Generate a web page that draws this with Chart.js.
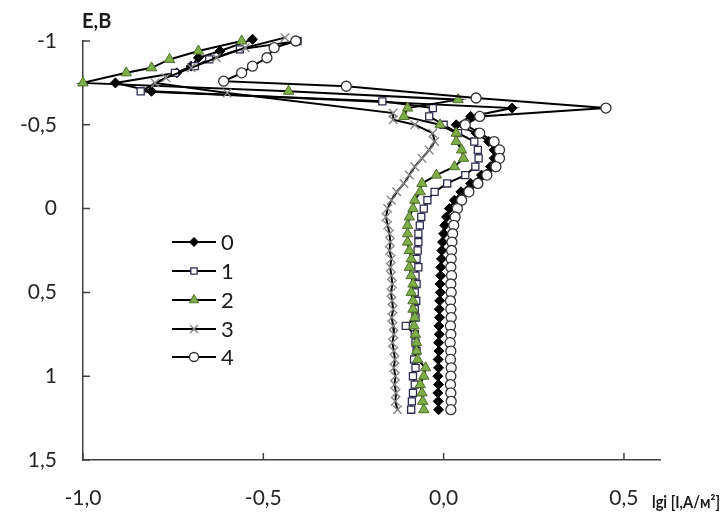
<!DOCTYPE html>
<html>
<head>
<meta charset="utf-8">
<script src="https://cdn.jsdelivr.net/npm/chart.js@4/dist/chart.umd.min.js"></script>
<style>
  html, body { margin: 0; padding: 0; background: #fff; }
  #wrap { width: 721px; height: 516px; position: relative; }
</style>
</head>
<body>
<div id="wrap"><canvas id="chart"></canvas></div>
<script>
// values: E (V) and lgi for each curve
const seriesNames = ["0", "1", "2", "3", "4"];

const s0E = [-1.01, -0.94, -0.90, -0.85, -0.81, -0.75, -0.70,
  -0.60, -0.55, -0.50, -0.45, -0.40, -0.35, -0.30, -0.25, -0.20, -0.15, -0.10, -0.05,
  0.00, 0.05, 0.10, 0.15, 0.20, 0.25, 0.30, 0.35, 0.40, 0.45, 0.50, 0.55, 0.60, 0.65,
  0.70, 0.75, 0.80, 0.85, 0.90, 0.95, 1.00, 1.05, 1.10, 1.15, 1.20];
const s0Lgi = [-0.53, -0.62, -0.68, -0.70, -0.74, -0.91, -0.81,
  0.19, 0.075, 0.035, 0.09, 0.125, 0.14, 0.14, 0.13, 0.105, 0.075, 0.048, 0.03,
  0.016, 0.008, 0.003, 0.0, -0.003, -0.005, -0.006, -0.008, -0.008, -0.01, -0.009, -0.011, -0.012, -0.011,
  -0.013, -0.012, -0.014, -0.013, -0.015, -0.014, -0.016, -0.014, -0.016, -0.015, -0.014];

const s1E = [-1.00, -0.95, -0.89, -0.85, -0.81, -0.70, -0.64,
  -0.60, -0.55, -0.50, -0.45, -0.40, -0.35, -0.30, -0.25, -0.20, -0.15, -0.10, -0.05,
  0.00, 0.05, 0.10, 0.15, 0.20, 0.25, 0.30, 0.35, 0.40, 0.45, 0.50, 0.55, 0.60, 0.65,
  0.70, 0.75, 0.80, 0.85, 0.90, 0.95, 1.00, 1.05, 1.10, 1.15, 1.20];
const s1Lgi = [-0.405, -0.565, -0.65, -0.69, -0.745, -0.84, -0.17,
  -0.03, -0.04, 0.0, 0.04, 0.085, 0.095, 0.097, 0.088, 0.06, 0.01, -0.025, -0.045,
  -0.055, -0.062, -0.066, -0.07, -0.07, -0.072, -0.075, -0.07, -0.078, -0.075, -0.08, -0.076, -0.08, -0.078,
  -0.105, -0.08, -0.078, -0.075, -0.082, -0.078, -0.085, -0.08, -0.085, -0.088, -0.09];

const s2E = [-1.00, -0.94, -0.89, -0.84, -0.81, -0.75, -0.70, -0.65,
  -0.60, -0.55, -0.50, -0.45, -0.40, -0.35, -0.30, -0.25, -0.20, -0.15, -0.10, -0.05,
  0.00, 0.05, 0.10, 0.15, 0.20, 0.25, 0.30, 0.35, 0.40, 0.45, 0.50, 0.55, 0.60, 0.65,
  0.70, 0.75, 0.80, 0.85, 0.90, 0.95, 1.00, 1.05, 1.10, 1.15, 1.20];
const s2Lgi = [-0.56, -0.68, -0.76, -0.81, -0.88, -1.00, -0.43, 0.04,
  -0.10, -0.11, -0.01, 0.035, 0.035, 0.05, 0.055, 0.03, -0.02, -0.06, -0.065, -0.08,
  -0.085, -0.095, -0.10, -0.10, -0.10, -0.095, -0.09, -0.095, -0.09, -0.085, -0.09, -0.085, -0.085, -0.08,
  -0.082, -0.078, -0.075, -0.075, -0.072, -0.05, -0.055, -0.065, -0.06, -0.058, -0.055];

const s3E = [-1.02, -0.96, -0.90, -0.84, -0.78, -0.75, -0.69, -0.57, -0.53,
  -0.50, -0.45, -0.40, -0.35, -0.30, -0.25, -0.20, -0.15, -0.10, -0.05,
  0.00, 0.05, 0.10, 0.15, 0.20, 0.25, 0.30, 0.35, 0.40, 0.45, 0.50, 0.55, 0.60, 0.65,
  0.70, 0.75, 0.80, 0.85, 0.90, 0.95, 1.00, 1.05, 1.10, 1.15, 1.20];
const s3Lgi = [-0.44, -0.55, -0.63, -0.70, -0.77, -0.80, -0.60, -0.14, -0.14,
  -0.08, -0.03, -0.025, -0.04, -0.06, -0.08, -0.095, -0.11, -0.13, -0.145,
  -0.155, -0.16, -0.155, -0.15, -0.148, -0.15, -0.145, -0.148, -0.145, -0.142, -0.146, -0.143, -0.14, -0.144,
  -0.14, -0.138, -0.142, -0.138, -0.135, -0.138, -0.134, -0.136, -0.132, -0.134, -0.128];

const s4E = [-1.00, -0.96, -0.90, -0.85, -0.81, -0.76, -0.73, -0.66,
  -0.60, -0.55, -0.50, -0.45, -0.40, -0.35, -0.30, -0.25, -0.20, -0.15, -0.10, -0.05,
  0.00, 0.05, 0.10, 0.15, 0.20, 0.25, 0.30, 0.35, 0.40, 0.45, 0.50, 0.55, 0.60, 0.65,
  0.70, 0.75, 0.80, 0.85, 0.90, 0.95, 1.00, 1.05, 1.10, 1.15, 1.20];
const s4Lgi = [-0.41, -0.47, -0.49, -0.53, -0.56, -0.61, -0.27, 0.09,
  0.45, 0.10, 0.06, 0.10, 0.14, 0.155, 0.155, 0.145, 0.12, 0.095, 0.07, 0.05,
  0.038, 0.032, 0.028, 0.025, 0.023, 0.022, 0.021, 0.02, 0.022, 0.02, 0.021, 0.019, 0.02, 0.021,
  0.019, 0.02, 0.018, 0.02, 0.019, 0.021, 0.02, 0.019, 0.02, 0.021, 0.02];

const xTicks = [-1.0, -0.5, 0.0, 0.5];
const yTicks = [-1, -0.5, 0, 0.5, 1, 1.5];

function toPoints(lgi, e) {
  const n = Math.min(lgi.length, e.length);
  const pts = [];
  for (let i = 0; i < n; i++) pts.push({ x: lgi[i], y: e[i] });
  return pts;
}

const markerStyles = [
  { pointStyle: "rectRot", radius: 5, bg: "#000", border: "#000", bw: 1 },
  { pointStyle: "rect", radius: 5, bg: "#fff", border: "#2e2d4f", bw: 1.3 },
  { pointStyle: "triangle", radius: 6, bg: "#7fae48", border: "#4f6e2c", bw: 1 },
  { pointStyle: "crossRot", radius: 6, bg: "#888", border: "#858585", bw: 1.4 },
  { pointStyle: "circle", radius: 5, bg: "#fff", border: "#333", bw: 1.3 }
];

const allE = [s0E, s1E, s2E, s3E, s4E];
const allLgi = [s0Lgi, s1Lgi, s2Lgi, s3Lgi, s4Lgi];

const datasets = seriesNames.map((name, i) => ({
  label: name,
  data: toPoints(allLgi[i], allE[i]),
  showLine: true,
  borderColor: "#000",
  borderWidth: 2,
  pointStyle: markerStyles[i].pointStyle,
  pointRadius: markerStyles[i].radius,
  pointBackgroundColor: markerStyles[i].bg,
  pointBorderColor: markerStyles[i].border,
  pointBorderWidth: markerStyles[i].bw,
  order: 4 - i,
  clip: false
}));

// inner tick marks, axis titles and legend
const decorPlugin = {
  id: "decor",
  afterDraw(chart) {
    const ctx = chart.ctx;
    const xs = chart.scales.x;
    const ys = chart.scales.y;
    const area = chart.chartArea;
    ctx.save();
    ctx.strokeStyle = "#404040";
    ctx.lineWidth = 1.5;
    ctx.beginPath();
    yTicks.forEach((v) => {
      const py = ys.getPixelForValue(v);
      ctx.moveTo(area.left, py);
      ctx.lineTo(area.left + 7, py);
    });
    xTicks.forEach((v) => {
      const px = xs.getPixelForValue(v);
      ctx.moveTo(px, area.bottom);
      ctx.lineTo(px, area.bottom - 7);
    });
    ctx.stroke();

    ctx.fillStyle = "#1a1a1a";
    ctx.textBaseline = "alphabetic";
    ctx.textAlign = "left";
    ctx.font = "bold 20px Lato, 'Open Sans', sans-serif";
    ctx.fillText("E,B", 82, 28);

    // x title, slightly narrowed to fit right of the last label
    ctx.font = "bold 17px Lato, 'Open Sans', sans-serif";
    const xTitle = "lgi [I,A/м²]";
    const w = ctx.measureText(xTitle).width;
    const fit = Math.max(0.8, Math.min(1, 68 / w));
    ctx.save();
    ctx.translate(652, 508);
    ctx.scale(fit, 1);
    ctx.fillText(xTitle, 0, 0);
    ctx.restore();

    // legend
    const lx = 172, lw = 44;
    const rowY = [242, 271, 300, 329, 357];
    seriesNames.forEach((name, i) => {
      const y = rowY[i];
      ctx.strokeStyle = "#000";
      ctx.lineWidth = 2;
      ctx.beginPath();
      ctx.moveTo(lx, y);
      ctx.lineTo(lx + lw, y);
      ctx.stroke();
      const m = markerStyles[i];
      ctx.fillStyle = m.bg;
      ctx.strokeStyle = m.border;
      ctx.lineWidth = m.bw;
      Chart.helpers.drawPoint(ctx, { pointStyle: m.pointStyle, radius: m.radius - 0.5, rotation: 0, borderWidth: m.bw }, lx + lw / 2, y);
      ctx.fillStyle = "#1a1a1a";
      ctx.font = "22px Lato, 'Open Sans', sans-serif";
      ctx.textBaseline = "middle";
      ctx.fillText(name, lx + lw + 5, y + 1);
    });
    ctx.restore();
  }
};

new Chart(document.getElementById("chart"), {
  type: "scatter",
  data: { datasets: datasets },
  options: {
    responsive: true,
    maintainAspectRatio: false,
    animation: false,
    layout: { padding: { top: 41, right: 61, left: 0, bottom: 0 } },
    plugins: {
      legend: { display: false },
      tooltip: { enabled: false }
    },
    scales: {
      x: {
        type: "linear",
        min: -1,
        max: 0.6,
        afterBuildTicks: (scale) => { scale.ticks = xTicks.map((v) => ({ value: v })); },
        afterFit: (scale) => { scale.height = 56; },
        grid: { drawOnChartArea: false, drawTicks: false },
        border: { display: true, color: "#404040", width: 1.5 },
        ticks: {
          padding: 26,
          color: "#262626",
          font: { family: "Lato, 'Open Sans', sans-serif", size: 21 },
          callback: (v) => v.toFixed(1).replace(".", ",")
        }
      },
      y: {
        type: "linear",
        reverse: true,
        min: -1,
        max: 1.5,
        afterBuildTicks: (scale) => { scale.ticks = yTicks.map((v) => ({ value: v })); },
        afterFit: (scale) => { scale.width = 83; },
        grid: { drawOnChartArea: false, drawTicks: false },
        border: { display: true, color: "#404040", width: 1.5 },
        ticks: {
          padding: 26,
          color: "#262626",
          font: { family: "Lato, 'Open Sans', sans-serif", size: 21 },
          callback: (v) => String(v).replace(".", ",")
        }
      }
    }
  },
  plugins: [decorPlugin]
});
</script>
</body>
</html>
